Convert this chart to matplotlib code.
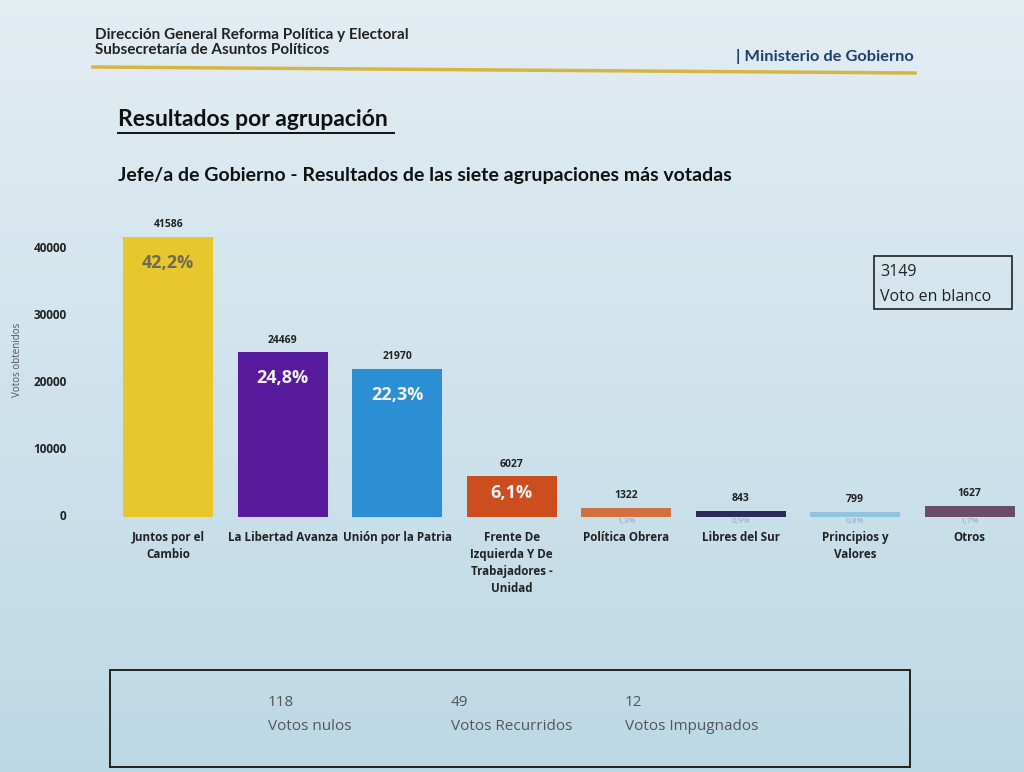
import numpy as np
import matplotlib.pyplot as plt
from matplotlib.patches import Rectangle
from matplotlib.lines import Line2D

# datos
agrupaciones = ["Juntos por el\nCambio", "La Libertad Avanza", "Unión por la Patria",
                "Frente De\nIzquierda Y De\nTrabajadores -\nUnidad", "Política Obrera",
                "Libres del Sur", "Principios y\nValores", "Otros"]
votos = [41586, 24469, 21970, 6027, 1322, 843, 799, 1627]
porcentajes = ["42,2%", "24,8%", "22,3%", "6,1%", "1,3%", "0,9%", "0,8%", "1,7%"]
colores = ["#e8c72c", "#591b9e", "#2c8fd4", "#cc4e1e", "#d0703e", "#2a2c5c", "#8ec6de", "#6a4c6c"]
yticks = [0, 10000, 20000, 30000, 40000]

voto_blanco = 3149
otros_votos = [("118", "Votos nulos"), ("49", "Votos Recurridos"), ("12", "Votos Impugnados")]

W, H = 1024, 772
fig = plt.figure(figsize=(W / 100, H / 100), dpi=100)

# fondo con degradado (foto de pantalla)
bg = fig.add_axes([0, 0, 1, 1], zorder=-10)
grad = np.linspace(0, 1, 256).reshape(-1, 1)
top = np.array([0.89, 0.93, 0.95])
bot = np.array([0.74, 0.85, 0.90])
img = top + (bot - top) * grad[..., None]
bg.imshow(img.reshape(256, 1, 3), aspect="auto", extent=[0, 1, 0, 1])
bg.set_xlim(0, 1)
bg.set_ylim(0, 1)
bg.axis("off")


def fx(px):
    return px / W


def fy(py):
    return 1 - py / H


# encabezado
fig.text(fx(95), fy(35), "Dirección General Reforma Política y Electoral", family="Lato",
         weight="bold", fontsize=11, color="#222222", va="center")
fig.text(fx(95), fy(50), "Subsecretaría de Asuntos Políticos", family="Lato",
         weight="bold", fontsize=11, color="#222222", va="center")
fig.text(fx(736), fy(57), "| Ministerio de Gobierno", family="Lato", weight="bold",
         fontsize=11.8, color="#1d3f6e", va="center")
fig.add_artist(Line2D([fx(93), fx(915)], [fy(67), fy(73)], color="#d6b640", lw=2.5))

# titulo
fig.text(fx(118), fy(120), "Resultados por agrupación", family="Lato", weight="bold",
         fontsize=16.5, color="#111111", va="center")
fig.add_artist(Line2D([fx(118), fx(394)], [fy(133), fy(133)], color="#111111", lw=1.4))
fig.text(fx(118), fy(176), "Jefe/a de Gobierno - Resultados de las siete agrupaciones más votadas",
         family="Lato", weight="bold", fontsize=14, color="#111111", va="center")

# grafico
ymax = 46000
px_per_unit = 269 / 40000
ax_h = ymax * px_per_unit
ax = fig.add_axes([fx(111), fy(517), fx(916), ax_h / H])
ax.patch.set_alpha(0)
x = np.arange(len(votos))
bars = ax.bar(x, votos, width=0.79, color=colores)
ax.set_xlim(-0.5, len(votos) - 0.5)
ax.set_ylim(0, ymax)
for s in ax.spines.values():
    s.set_visible(False)
ax.set_xticks([])
ax.set_yticks([])

pt = 100 / 72
for i, v in enumerate(votos):
    ax.annotate(str(v), (x[i], v), xytext=(0, 5), textcoords="offset points",
                ha="center", va="bottom", fontsize=7.5, weight="bold", color="#222222",
                family="Open Sans")
    if v > 5000:
        col = "#6f6a55" if i == 0 else "#f2f2f2"
        off = min(18.5, v * px_per_unit * 0.4 / pt)
        ax.annotate(porcentajes[i], (x[i], v), xytext=(0, -off), textcoords="offset points",
                    ha="center", va="center", fontsize=13, weight="bold", color=col,
                    family="Open Sans")
    else:
        ax.annotate(porcentajes[i], (x[i], 0), xytext=(0, -3), textcoords="offset points",
                    ha="center", va="center", fontsize=6, color="#8aa4b8",
                    family="Open Sans")
    ax.annotate(agrupaciones[i], (x[i], 0), xytext=(0, -10), textcoords="offset points",
                ha="center", va="top", fontsize=8.4, weight="bold", color="#222222",
                family="Open Sans", linespacing=1.42)

# eje y
for t in yticks:
    ax.annotate(str(t), (-0.5, t), xytext=(-32, 0), textcoords="offset points",
                ha="right", va="center", fontsize=8.5, weight="bold", color="#222222",
                family="Open Sans", annotation_clip=False)
fig.text(fx(18), fy(360), "Votos obtenidos", rotation=90, ha="center", va="center",
         fontsize=7, color="#555555", family="Open Sans")

# voto en blanco
fig.add_artist(Rectangle((fx(874), fy(309)), fx(138), (309 - 256) / H, fill=False,
                         ec="#222222", lw=1.2))
fig.text(fx(880), fy(272), str(voto_blanco), fontsize=11.5, color="#222222",
         family="Open Sans", va="center")
fig.text(fx(880), fy(297), "Voto en blanco", fontsize=11.5, color="#222222",
         family="Open Sans", va="center")

# recuadro inferior
fig.add_artist(Rectangle((fx(110), fy(767)), fx(800), (767 - 670) / H, fill=False,
                         ec="#222222", lw=1.4))
for (num, lab), px in zip(otros_votos, [268, 451, 625]):
    fig.text(fx(px), fy(703), num, fontsize=11, color="#555555", family="Open Sans",
             va="center")
    fig.text(fx(px), fy(727), lab, fontsize=11, color="#555555", family="Open Sans",
             va="center")

fig.savefig("out.png", dpi=100)
